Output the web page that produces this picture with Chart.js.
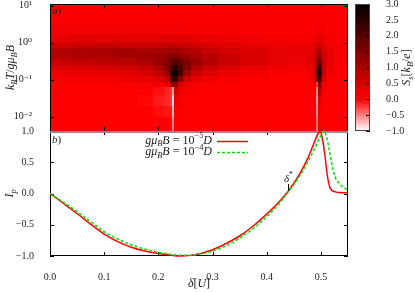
<!DOCTYPE html>
<html>
<head>
<meta charset="utf-8">
<script src="https://cdn.jsdelivr.net/npm/chart.js@4.4.1/dist/chart.umd.min.js"></script>
<style>
  html, body { margin: 0; padding: 0; background: #fff; }
  #wrap { position: relative; width: 415px; height: 292px; }
  #wrap canvas { position: absolute; left: 0; top: 0; }
</style>
</head>
<body>
<div id="wrap">
  <canvas id="heat" width="415" height="292"></canvas>
  <canvas id="lines" width="415" height="292"></canvas>
  <canvas id="cbar" width="415" height="292"></canvas>
</div>
<script>
// tick values / labels
const deltaTicks = [0, 0.1, 0.2, 0.3, 0.4, 0.5];
const ipTicks = [-1, -0.5, 0, 0.5, 1];
const kTTicks = [0.01, 0.1, 1, 10];
const kTTickLabels = ['10⁻²', '10⁻¹', '10⁰', '10¹'];
const sTicks = [-1, -0.5, 0, 0.5, 1, 1.5, 2, 2.5, 3];

// I_p, g mu_B B = 1e-5 D (red)
const redDelta = [0, 0.025, 0.05, 0.075, 0.1, 0.125, 0.15, 0.175, 0.2, 0.225, 0.24, 0.26, 0.28, 0.3, 0.325, 0.35, 0.375, 0.4, 0.42, 0.44, 0.46, 0.475, 0.487, 0.495, 0.499, 0.503, 0.507, 0.512, 0.517, 0.525, 0.535, 0.55];
const redIp = [0, -0.16, -0.32, -0.49, -0.65, -0.77, -0.86, -0.92, -0.96, -0.99, -1.0, -0.99, -0.955, -0.9, -0.8, -0.68, -0.52, -0.33, -0.16, 0.04, 0.3, 0.55, 0.8, 0.96, 1.0, 0.86, 0.64, 0.28, 0.09, 0.03, 0.015, 0.01];

// I_p, g mu_B B = 1e-4 D (green, dashed)
const greenDelta = [0, 0.025, 0.05, 0.075, 0.1, 0.125, 0.15, 0.175, 0.2, 0.225, 0.245, 0.265, 0.285, 0.3, 0.325, 0.35, 0.375, 0.4, 0.42, 0.44, 0.46, 0.475, 0.49, 0.5, 0.505, 0.51, 0.515, 0.52, 0.526, 0.535, 0.545, 0.55];
const greenIp = [0, -0.14, -0.29, -0.45, -0.61, -0.73, -0.82, -0.89, -0.94, -0.975, -0.99, -0.985, -0.955, -0.925, -0.835, -0.715, -0.56, -0.37, -0.19, 0.03, 0.27, 0.49, 0.75, 0.93, 1.0, 0.92, 0.72, 0.48, 0.27, 0.15, 0.08, 0.06];

const deltaStar = 0.44;

// S_s map: cell edges along delta and k_B T / g mu_B B, rows listed from the top
const cellDelta = [0, 0.04, 0.08, 0.12, 0.16, 0.19, 0.21, 0.22, 0.2255, 0.2295, 0.236, 0.245, 0.26, 0.28, 0.31, 0.35, 0.40, 0.44, 0.47, 0.485, 0.491, 0.4945, 0.4975, 0.502, 0.51, 0.525, 0.55];
const cellKT = [11.2, 3.16, 1.58, 1, 0.708, 0.501, 0.355, 0.251, 0.178, 0.126, 0.0891, 0.0631, 0.0398, 0.02, 0.01, 0.0041];
const cellS = [
  [0.03,0.03,0.03,0.03,0.03,0.03,0.03,0.03,0.03,0.03,0.03,0.03,0.03,0.03,0.03,0.03,0.03,0.03,0.03,0.03,0.04,0.05,0.05,0.04,0.03,0.03],
  [0.12,0.12,0.12,0.12,0.12,0.12,0.12,0.12,0.12,0.12,0.12,0.11,0.1,0.09,0.08,0.06,0.05,0.05,0.05,0.08,0.12,0.18,0.18,0.1,0.05,0.04],
  [0.3,0.32,0.34,0.35,0.36,0.38,0.38,0.38,0.38,0.38,0.38,0.35,0.3,0.25,0.2,0.15,0.12,0.1,0.13,0.18,0.28,0.38,0.35,0.2,0.1,0.05],
  [0.6,0.65,0.7,0.7,0.7,0.7,0.72,0.74,0.76,0.76,0.72,0.65,0.58,0.48,0.38,0.28,0.22,0.19,0.23,0.33,0.48,0.62,0.57,0.36,0.18,0.08],
  [0.9,0.95,1.0,1.0,1.0,1.0,1.05,1.1,1.15,1.15,1.08,0.95,0.82,0.66,0.52,0.4,0.3,0.26,0.3,0.46,0.72,0.92,0.86,0.5,0.25,0.1],
  [0.9,0.95,1.0,1.05,1.1,1.2,1.3,1.42,1.5,1.5,1.4,1.22,1.02,0.82,0.62,0.45,0.32,0.27,0.33,0.55,0.9,1.25,1.15,0.62,0.28,0.1],
  [0.65,0.7,0.75,0.82,0.95,1.2,1.45,1.7,1.9,2.0,1.8,1.5,1.2,0.9,0.64,0.42,0.28,0.22,0.32,0.6,1.15,1.7,1.6,0.75,0.28,0.08],
  [0.4,0.44,0.48,0.55,0.7,0.98,1.4,1.9,2.3,2.5,2.1,1.45,1.0,0.66,0.44,0.27,0.18,0.14,0.25,0.58,1.4,2.3,2.2,0.8,0.25,0.05],
  [0.22,0.24,0.27,0.33,0.45,0.68,1.15,2.1,2.7,2.9,2.2,1.1,0.62,0.38,0.22,0.12,0.08,0.06,0.16,0.52,1.6,2.8,2.5,0.7,0.18,0.03],
  [0.1,0.11,0.13,0.17,0.25,0.4,0.7,1.6,2.3,2.4,1.35,0.55,0.3,0.17,0.09,0.04,0.02,0.02,0.1,0.42,1.3,2.4,2.0,0.5,0.08,0.01],
  [0.04,0.04,0.05,0.06,0.09,0.15,0.27,0.8,1.2,1.3,0.55,0.22,0.1,0.05,0.02,0.01,0,0,0.04,0.22,-0.2,1.6,1.2,0.25,0.03,0],
  [0.02,0.02,0.02,0.02,0.02,-0.05,-0.12,-0.2,-0.6,0.6,0.3,0.1,0.05,0.02,0,0,0,0,0,0.1,-0.5,1.0,0.8,0.15,0,0],
  [0,0,0,0,-0.02,-0.1,-0.15,-0.2,-0.85,0.25,0.1,0.03,0,0,0,0,0,0,0,0.05,-0.6,0.5,0.3,0.05,0,0],
  [0,0,0,0,0,-0.05,-0.08,-0.1,-0.7,0.1,0.03,0,0,0,0,0,0,0,0,0,-0.55,0.2,0.1,0,0,0],
  [0,0,0,0,0,0,0,-0.05,-0.5,0.05,0,0,0,0,0,0,0,0,0,0,-0.45,0.1,0.05,0,0,0]
];

const SERIF = '"Liberation Serif", "DejaVu Serif", serif';
const INK = '#222';
Chart.defaults.font.family = SERIF;
Chart.defaults.font.size = 10;
Chart.defaults.color = INK;

// white (-1) -> red (0) -> black (3)
function sColor(s) {
    s = Math.max(-1, Math.min(3, s));
    if (s < 0) {
        const w = Math.round(-s * 255);
        return `rgb(255,${w},${w})`;
    }
    return `rgb(${Math.round(255 * (1 - s / 3))},0,0)`;
}

function fmt(v) {
    return (v < 0 ? '−' : '') + Math.abs(v).toFixed(1);
}

function fixWidth(w) {
    return function (scale) {
        scale.width = w;
        scale.paddingTop = scale.paddingBottom = scale.paddingLeft = scale.paddingRight = 0;
    };
}
function fixHeight(h) {
    return function (scale) {
        scale.height = h;
        scale.paddingTop = scale.paddingBottom = scale.paddingLeft = scale.paddingRight = 0;
    };
}
function setTicks(values) {
    return function (scale) {
        scale.ticks = values.map(v => ({ value: v }));
    };
}

// text with italics, sub- and superscripts: parts = [[text, flags]], flags: i italic, b sub, p sup
function richText(ctx, parts, x, y, size, align) {
    const pieces = parts.map(([t, f]) => {
        const small = f.includes('b') || f.includes('p');
        const font = (f.includes('i') ? 'italic ' : '') + (small ? size * 0.7 : size) + 'px ' + SERIF;
        ctx.font = font;
        return { t, font, w: ctx.measureText(t).width, dy: f.includes('b') ? size * 0.28 : (f.includes('p') ? -size * 0.38 : 0) };
    });
    const total = pieces.reduce((s, p) => s + p.w, 0);
    let cx = align === 'center' ? x - total / 2 : (align === 'right' ? x - total : x);
    ctx.textAlign = 'left';
    ctx.textBaseline = 'middle';
    ctx.fillStyle = INK;
    pieces.forEach(p => {
        ctx.font = p.font;
        ctx.fillText(p.t, cx, y + p.dy);
        cx += p.w;
    });
}

function rotatedText(ctx, parts, x, y, size) {
    ctx.save();
    ctx.translate(x, y);
    ctx.rotate(-Math.PI / 2);
    richText(ctx, parts, 0, 0, size, 'center');
    ctx.restore();
}

// gnuplot style frame with inward ticks on all sides
function drawFrame(chart, skipBottom) {
    const { ctx, chartArea: a } = chart;
    const xs = chart.scales.x, ys = chart.scales.y;
    const len = 4;
    ctx.save();
    ctx.strokeStyle = '#000';
    ctx.lineWidth = 1;
    ctx.beginPath();
    xs.ticks.forEach(t => {
        const px = Math.round(xs.getPixelForValue(t.value)) + 0.5;
        ctx.moveTo(px, a.bottom); ctx.lineTo(px, a.bottom - len);
        ctx.moveTo(px, a.top); ctx.lineTo(px, a.top + len);
    });
    ys.ticks.forEach(t => {
        const py = Math.round(ys.getPixelForValue(t.value)) + 0.5;
        ctx.moveTo(a.left, py); ctx.lineTo(a.left + len, py);
        ctx.moveTo(a.right, py); ctx.lineTo(a.right - len, py);
    });
    ctx.stroke();
    ctx.beginPath();
    ctx.moveTo(a.left + 0.5, a.bottom);
    ctx.lineTo(a.left + 0.5, a.top + 0.5);
    ctx.lineTo(a.right - 0.5, a.top + 0.5);
    ctx.lineTo(a.right - 0.5, a.bottom);
    if (!skipBottom) {
        ctx.moveTo(a.right, a.bottom - 0.5);
        ctx.lineTo(a.left, a.bottom - 0.5);
    }
    ctx.stroke();
    ctx.restore();
}

// ---- top panel: S_s map ----
const heatPlugin = {
    id: 'heatCells',
    beforeDatasetsDraw(chart) {
        const { ctx, chartArea: a, scales: { x, y } } = chart;
        ctx.save();
        ctx.beginPath();
        ctx.rect(a.left, a.top, a.right - a.left, a.bottom - a.top);
        ctx.clip();
        for (let r = 0; r < cellS.length; r++) {
            const y0 = Math.round(y.getPixelForValue(cellKT[r]));
            const y1 = Math.round(y.getPixelForValue(cellKT[r + 1]));
            for (let c = 0; c < cellS[r].length; c++) {
                const x0 = Math.round(x.getPixelForValue(cellDelta[c]));
                const x1 = Math.round(x.getPixelForValue(cellDelta[c + 1]));
                ctx.fillStyle = sColor(cellS[r][c]);
                ctx.fillRect(x0, y0, x1 - x0, y1 - y0);
            }
        }
        ctx.restore();
    },
    afterDraw(chart) {
        const { ctx, chartArea: a } = chart;
        drawFrame(chart, true);
        richText(ctx, [['a', 'i'], [')', '']], a.left + 2, a.top + 7, 11, 'left');
        rotatedText(ctx, [['k', 'i'], ['B', 'ib'], ['T', 'i'], ['/', ''], ['gμ', 'i'], ['B', 'ib'], ['B', 'i']],
            11, (a.top + a.bottom) / 2, 12);
    }
};

new Chart(document.getElementById('heat'), {
    type: 'scatter',
    data: { datasets: [] },
    options: {
        responsive: false,
        animation: false,
        devicePixelRatio: 1,
        layout: { padding: { top: 4, right: 67, bottom: 161, left: 0 } },
        plugins: { legend: { display: false }, tooltip: { enabled: false } },
        scales: {
            x: {
                type: 'linear', min: 0, max: 0.55,
                afterBuildTicks: setTicks(deltaTicks),
                afterFit: fixHeight(0),
                grid: { display: false }, border: { display: false },
                ticks: { display: false }
            },
            y: {
                type: 'logarithmic', min: 0.0041, max: 11.2,
                afterBuildTicks: setTicks(kTTicks),
                afterFit: fixWidth(50),
                grid: { display: false }, border: { display: false },
                ticks: { padding: 10, autoSkip: false, callback: (v, i) => kTTickLabels[i] }
            }
        }
    },
    plugins: [heatPlugin]
});

// ---- bottom panel: I_p ----
const linePlugin = {
    id: 'lineDecor',
    beforeDatasetsDraw(chart) {
        const { ctx, chartArea: a } = chart;
        drawFrame(chart, false);
        ctx.save();
        ctx.strokeStyle = '#8c8c8c';
        ctx.lineWidth = 2;
        ctx.beginPath();
        ctx.moveTo(a.left, a.top + 1);
        ctx.lineTo(a.right, a.top + 1);
        ctx.stroke();
        ctx.restore();
    },
    afterDraw(chart) {
        const { ctx, chartArea: a, scales: { x } } = chart;
        const ds = chart.data.datasets;
        richText(ctx, [['b', 'i'], [')', '']], a.left + 2, a.top + 9, 11, 'left');
        // legend
        const rows = [['−5', 0], ['−4', 1]];
        rows.forEach(([exp, k]) => {
            const ly = a.top + 9.5 + k * 11.5;
            richText(ctx, [['gμ', 'i'], ['B', 'ib'], ['B', 'i'], [' = ', ''], ['10', ''], [exp, 'p'], ['D', 'i']], 212, ly, 12, 'right');
            ctx.save();
            ctx.strokeStyle = ds[k].borderColor;
            ctx.lineWidth = ds[k].borderWidth;
            ctx.setLineDash(ds[k].borderDash || []);
            ctx.beginPath();
            ctx.moveTo(217, Math.round(ly) + 0.5);
            ctx.lineTo(248, Math.round(ly) + 0.5);
            ctx.stroke();
            ctx.restore();
        });
        // delta* marker
        const sx = x.getPixelForValue(deltaStar);
        richText(ctx, [['δ', 'i'], ['*', 'p']], sx, 179, 11, 'center');
        ctx.save();
        ctx.strokeStyle = '#000';
        ctx.lineWidth = 1;
        ctx.beginPath();
        ctx.moveTo(Math.round(sx) + 0.5, 184);
        ctx.lineTo(Math.round(sx) + 0.5, 191);
        ctx.stroke();
        ctx.restore();
        // axis titles
        richText(ctx, [['δ', 'i'], ['[', ''], ['U', 'i'], [']', '']], (a.left + a.right) / 2, 284, 12, 'center');
        rotatedText(ctx, [['I', 'i'], ['p', 'ib']], 10, (a.top + a.bottom) / 2, 12);
    }
};

new Chart(document.getElementById('lines'), {
    type: 'line',
    data: {
        datasets: [
            {
                label: 'gμB B = 1e-5 D',
                data: redDelta.map((d, i) => ({ x: d, y: redIp[i] })),
                borderColor: '#ff0000',
                borderWidth: 1.5,
                pointRadius: 0,
                cubicInterpolationMode: 'monotone',
                clip: 4,
                order: 2
            },
            {
                label: 'gμB B = 1e-4 D',
                data: greenDelta.map((d, i) => ({ x: d, y: greenIp[i] })),
                borderColor: '#00e000',
                borderWidth: 1.5,
                borderDash: [3, 2],
                pointRadius: 0,
                cubicInterpolationMode: 'monotone',
                clip: 4,
                order: 1
            }
        ]
    },
    options: {
        responsive: false,
        animation: false,
        devicePixelRatio: 1,
        layout: { padding: { top: 131, right: 67, bottom: 0, left: 0 } },
        plugins: { legend: { display: false }, tooltip: { enabled: false } },
        scales: {
            x: {
                type: 'linear', min: 0, max: 0.55,
                afterBuildTicks: setTicks(deltaTicks),
                afterFit: fixHeight(36),
                grid: { display: false }, border: { display: false },
                ticks: { padding: 7, autoSkip: false, maxRotation: 0, callback: v => fmt(v) }
            },
            y: {
                type: 'linear', min: -1, max: 1,
                afterBuildTicks: setTicks(ipTicks),
                afterFit: fixWidth(50),
                grid: { display: false }, border: { display: false },
                ticks: { padding: 8, autoSkip: false, callback: v => fmt(v) }
            }
        }
    },
    plugins: [linePlugin]
});

// ---- colour bar ----
function cbGradient(context) {
    const chart = context.chart;
    if (!chart.chartArea) return sColor(0);
    const y = chart.scales.y;
    const lo = sTicks[0], hi = sTicks[sTicks.length - 1];
    const g = chart.ctx.createLinearGradient(0, y.getPixelForValue(lo), 0, y.getPixelForValue(hi));
    g.addColorStop(0, sColor(lo));
    g.addColorStop((0 - lo) / (hi - lo), sColor(0));
    g.addColorStop(1, sColor(hi));
    return g;
}

const cbarPlugin = {
    id: 'cbarDecor',
    afterDraw(chart) {
        const { ctx, chartArea: a, scales: { y } } = chart;
        ctx.save();
        ctx.strokeStyle = '#000';
        ctx.lineWidth = 1;
        ctx.beginPath();
        y.ticks.forEach(t => {
            const py = Math.round(y.getPixelForValue(t.value)) + 0.5;
            ctx.moveTo(a.right, py);
            ctx.lineTo(a.right - 4, py);
        });
        ctx.stroke();
        ctx.strokeStyle = '#444';
        ctx.strokeRect(a.left + 0.5, a.top + 0.5, a.right - a.left - 1, a.bottom - a.top - 1);
        ctx.restore();
        rotatedText(ctx, [['S', 'i'], ['s', 'ib'], ['[', ''], ['k', 'i'], ['B', 'ib'], ['/', ''], ['e', 'i'], [']', '']],
            407, (a.top + a.bottom) / 2, 12);
    }
};

new Chart(document.getElementById('cbar'), {
    type: 'bar',
    data: {
        labels: ['S'],
        datasets: [{
            data: [[sTicks[0], sTicks[sTicks.length - 1]]],
            backgroundColor: cbGradient,
            borderWidth: 0,
            barPercentage: 1,
            categoryPercentage: 1
        }]
    },
    options: {
        responsive: false,
        animation: false,
        devicePixelRatio: 1,
        layout: { padding: { top: 4, right: 0, bottom: 161, left: 355 } },
        plugins: { legend: { display: false }, tooltip: { enabled: false } },
        scales: {
            x: { display: false },
            y: {
                position: 'right', min: -1, max: 3,
                afterBuildTicks: setTicks(sTicks),
                afterFit: fixWidth(45),
                grid: { display: false }, border: { display: false },
                ticks: { padding: 8, autoSkip: false, callback: v => fmt(v) }
            }
        }
    },
    plugins: [cbarPlugin]
});
</script>
</body>
</html>
